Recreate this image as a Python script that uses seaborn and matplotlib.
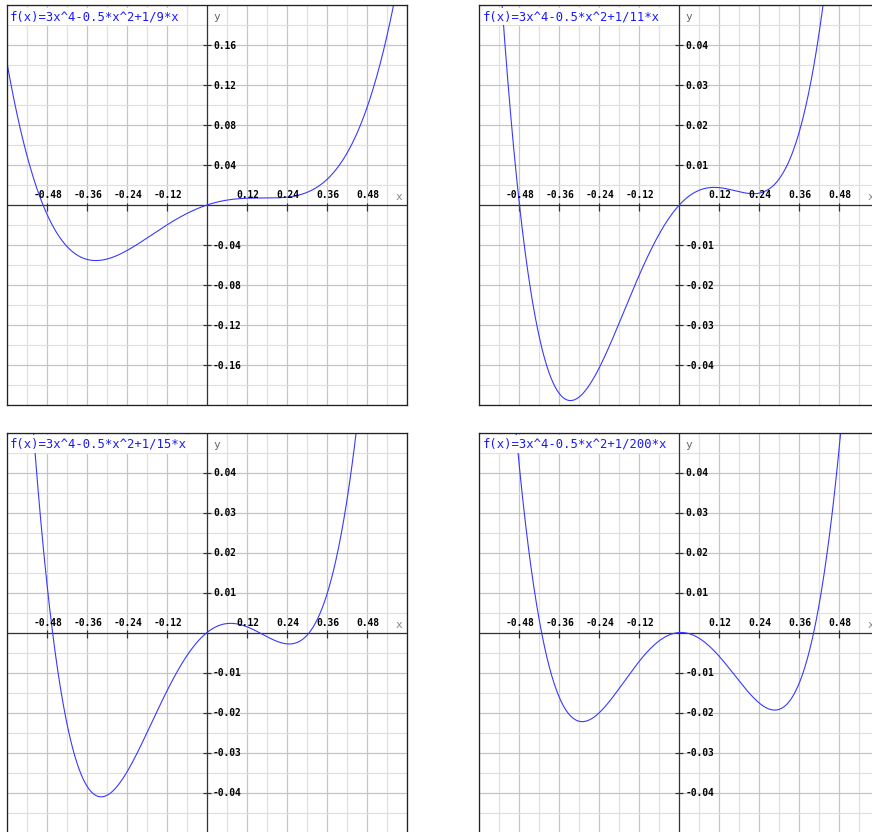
import numpy as np
import pandas as pd
import matplotlib
matplotlib.use("Agg")
import matplotlib.pyplot as plt
from matplotlib.transforms import offset_copy
import seaborn as sns

quartic_coef = 3.0
quadratic_coef = -0.5
linear_coefs = [1 / 9, 1 / 11, 1 / 15, 1 / 200]
titles = [
    "f(x)=3x^4-0.5*x^2+1/9*x",
    "f(x)=3x^4-0.5*x^2+1/11*x",
    "f(x)=3x^4-0.5*x^2+1/15*x",
    "f(x)=3x^4-0.5*x^2+1/200*x",
]
x_range = [-0.6, 0.6]
y_ranges = [[-0.2, 0.2], [-0.05, 0.05], [-0.05, 0.05], [-0.05, 0.05]]
x_tick_values = [-0.48, -0.36, -0.24, -0.12, 0.12, 0.24, 0.36, 0.48]
x_tick_labels = ["-0.48", "-0.36", "-0.24", "-0.12", "0.12", "0.24", "0.36", "0.48"]
x_grid_step = 0.06
y_tick_values = [
    [-0.16, -0.12, -0.08, -0.04, 0.04, 0.08, 0.12, 0.16],
    [-0.04, -0.03, -0.02, -0.01, 0.01, 0.02, 0.03, 0.04],
    [-0.04, -0.03, -0.02, -0.01, 0.01, 0.02, 0.03, 0.04],
    [-0.04, -0.03, -0.02, -0.01, 0.01, 0.02, 0.03, 0.04],
]
y_tick_labels = [
    ["-0.16", "-0.12", "-0.08", "-0.04", "0.04", "0.08", "0.12", "0.16"],
    ["-0.04", "-0.03", "-0.02", "-0.01", "0.01", "0.02", "0.03", "0.04"],
    ["-0.04", "-0.03", "-0.02", "-0.01", "0.01", "0.02", "0.03", "0.04"],
    ["-0.04", "-0.03", "-0.02", "-0.01", "0.01", "0.02", "0.03", "0.04"],
]
y_grid_steps = [0.02, 0.005, 0.005, 0.005]

# ---- styling ----
sns.set_style("white")
plt.rcParams["font.family"] = ["DejaVu Sans Mono", "DejaVu Sans"]

W, H = 872, 832
DPI = 100
fig = plt.figure(figsize=(W / DPI, H / DPI), dpi=DPI)
fig.patch.set_facecolor("white")

panel_px = [(7, 5), (479.3, 5), (7, 432.5), (479.3, 432.5)]
size_px = 400

curve_color = "#3838ff"
major_grid = "#c4c4c4"
minor_grid = "#e0e0e0"
axis_color = "#333333"
px = 72.0 / DPI  # one pixel in points

for i in range(4):
    left, top = panel_px[i]
    ax = fig.add_axes([left / W, (H - top - size_px) / H, size_px / W, size_px / H])
    ax.set_facecolor("white")
    ylo, yhi = y_ranges[i]
    ax.set_xlim(*x_range)
    ax.set_ylim(ylo, yhi)

    # grid
    gx = np.round(np.arange(x_range[0], x_range[1] + 1e-9, x_grid_step), 6)
    for v in gx:
        is_major = abs(round(v / 0.12) * 0.12 - v) < 1e-6
        ax.axvline(v, color=major_grid if is_major else minor_grid,
                   lw=1.2 * px, zorder=0.5)
    step = y_grid_steps[i]
    gy = np.round(np.arange(ylo, yhi + 1e-12, step), 6)
    ymaj = 2 * step
    for v in gy:
        is_major = abs(round(v / ymaj) * ymaj - v) < 1e-9
        ax.axhline(v, color=major_grid if is_major else minor_grid,
                   lw=1.2 * px, zorder=0.5)

    # central axes
    ax.axhline(0, color=axis_color, lw=1.2 * px, zorder=1)
    ax.axvline(0, color=axis_color, lw=1.2 * px, zorder=1)

    # curve
    xs = np.linspace(x_range[0], x_range[1], 1201)
    ys = quartic_coef * xs ** 4 + quadratic_coef * xs ** 2 + linear_coefs[i] * xs
    df = pd.DataFrame({"x": xs, "y": ys})
    sns.lineplot(data=df, x="x", y="y", ax=ax, color=curve_color,
                 linewidth=1.1 * px, estimator=None, sort=False, zorder=3)

    # ticks on central axes
    tr_x = offset_copy(ax.transData, fig=fig, x=0, y=-1.8, units="dots")
    ax.plot(x_tick_values, [0] * len(x_tick_values), linestyle="none",
            marker="|", markersize=8.5 * px, markeredgewidth=1.2 * px,
            color=axis_color, transform=tr_x, zorder=2, clip_on=False)
    ax.plot([0] * len(y_tick_values[i]), y_tick_values[i], linestyle="none",
            marker="_", markersize=8.5 * px, markeredgewidth=1.2 * px,
            color=axis_color, zorder=2)

    # tick labels
    tr_xl = offset_copy(ax.transData, fig=fig, x=1, y=6.7, units="dots")
    for v, lab in zip(x_tick_values, x_tick_labels):
        ax.text(v, 0, lab, transform=tr_xl, ha="center", va="baseline",
                fontsize=6.9, fontweight="bold", color="#000000", zorder=4)
    tr_yl = offset_copy(ax.transData, fig=fig, x=6, y=0, units="dots")
    for v, lab in zip(y_tick_values[i], y_tick_labels[i]):
        ax.text(0, v, lab, transform=tr_yl, ha="left", va="center_baseline",
                fontsize=6.9, fontweight="bold", color="#000000", zorder=4)

    # axis names
    ax.annotate("y", xy=(0, yhi), xycoords="data", xytext=(9.5, -12),
                textcoords="offset pixels", ha="center", va="center",
                fontsize=8, color="#666666", zorder=4)
    ax.annotate("x", xy=(x_range[1], 0), xycoords="data", xytext=(-8, 8),
                textcoords="offset pixels", ha="center", va="center",
                fontsize=8, color="#888888", zorder=4)

    # title
    ax.annotate(titles[i], xy=(0, 1), xycoords="axes fraction",
                xytext=(3.0, -5), textcoords="offset pixels",
                ha="left", va="top", fontsize=8.8, color="#1a1aff", zorder=5,
                bbox=dict(facecolor="white", edgecolor="none", pad=1.5))

    ax.set_xticks([])
    ax.set_yticks([])
    ax.set_xlabel("")
    ax.set_ylabel("")
    for s in ax.spines.values():
        s.set_visible(True)
        s.set_color("#222222")
        s.set_linewidth(1.3 * px)
        s.set_zorder(6)

fig.savefig("out.png", dpi=DPI)
